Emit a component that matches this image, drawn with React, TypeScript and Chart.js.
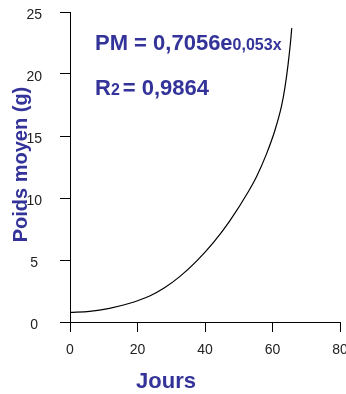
import React, { useEffect, useRef } from 'react';
import { Chart, registerables } from 'chart.js';

Chart.register(...registerables);

// Data (days, mean weight in g)
const days = [0, 5.8, 11.7, 17.7, 23.6, 28.0, 32.5, 37.5, 42.4, 47.3, 53.0, 55.3, 58.2, 60.7, 62.7, 63.7, 64.6, 65.4, 65.7];
const weights = [0.78, 0.86, 1.1, 1.51, 2.1, 2.76, 3.66, 4.91, 6.38, 8.14, 10.59, 11.74, 13.54, 15.44, 17.44, 18.94, 20.74, 22.74, 23.7];

const xTicks = [0, 20, 40, 60, 80];
const yTicks = [0, 5, 10, 15, 20, 25];

const xTitle = 'Jours';
const yTitle = 'Poids moyen (g)';
const eqMain = 'PM = 0,7056e';
const eqExp = '0,053x';
const r2Main = 'R';
const r2Sub = '2';
const r2Value = '= 0,9864';

const FONT = '"Liberation Sans", Arial, sans-serif';
const BLUE = '#333399';
const TICK_COLOR = '#222222';

const textPlugin = {
  id: 'texts',
  afterDraw(chart: any) {
    const ctx = chart.ctx;
    ctx.save();
    ctx.fillStyle = BLUE;
    ctx.textAlign = 'left';
    ctx.textBaseline = 'alphabetic';

    // Equation
    ctx.font = `bold 22px ${FONT}`;
    ctx.fillText(eqMain, 95, 50);
    let w = ctx.measureText(eqMain).width;
    ctx.font = `bold 16px ${FONT}`;
    ctx.fillText(eqExp, 95 + w, 50);

    // R2
    ctx.font = `bold 22px ${FONT}`;
    ctx.fillText(r2Main, 95, 95);
    w = ctx.measureText(r2Main).width;
    ctx.font = `bold 16px ${FONT}`;
    ctx.fillText(r2Sub, 95 + w, 95);
    const w2 = ctx.measureText(r2Sub).width;
    ctx.font = `bold 22px ${FONT}`;
    ctx.fillText(r2Value, 95 + w + w2 + 3, 95);

    // X title
    ctx.textAlign = 'center';
    ctx.fillText(xTitle, 166, 388);

    // Y title
    ctx.font = `bold 20px ${FONT}`;
    ctx.translate(27, 164.5);
    ctx.rotate(-Math.PI / 2);
    ctx.fillText(yTitle, 0, 0);
    ctx.restore();
  },
};

export default function App() {
  const ref = useRef<HTMLCanvasElement | null>(null);

  useEffect(() => {
    document.body.style.margin = '0';
    const canvas = ref.current;
    if (!canvas) return;
    const chart = new Chart(canvas, {
      type: 'line',
      data: {
        datasets: [
          {
            data: days.map((d, i) => ({ x: d, y: weights[i] })),
            borderColor: '#000000',
            borderWidth: 1.2,
            pointRadius: 0,
            fill: false,
            cubicInterpolationMode: 'monotone',
          },
        ],
      },
      options: {
        responsive: false,
        animation: false,
        layout: { padding: { top: 12, left: 0, right: 6, bottom: 0 } },
        plugins: {
          legend: { display: false },
          tooltip: { enabled: false },
          title: { display: false },
        },
        scales: {
          x: {
            type: 'linear',
            min: 0,
            max: 80,
            afterBuildTicks: (s: any) => {
              s.ticks = xTicks.map((v) => ({ value: v }));
            },
            afterFit: (s: any) => {
              s.height = 72;
              s.paddingLeft = 0;
              s.paddingRight = 0;
            },
            grid: { drawOnChartArea: false, drawTicks: true, tickLength: 10, color: '#000000', lineWidth: 1 },
            border: { display: true, color: '#000000', width: 1 },
            ticks: {
              font: { size: 14, family: FONT },
              color: TICK_COLOR,
              padding: 10,
              maxRotation: 0,
              autoSkip: false,
            },
          },
          y: {
            type: 'linear',
            min: 0,
            max: 25,
            afterBuildTicks: (s: any) => {
              s.ticks = yTicks.map((v) => ({ value: v }));
            },
            afterFit: (s: any) => {
              s.width = 70;
              s.paddingTop = 0;
              s.paddingBottom = 0;
            },
            grid: { drawOnChartArea: false, drawTicks: true, tickLength: 10, color: '#000000', lineWidth: 1 },
            border: { display: true, color: '#000000', width: 1 },
            ticks: {
              font: { size: 14, family: FONT },
              color: TICK_COLOR,
              padding: 18,
              crossAlign: 'center',
              labelOffset: 3,
              autoSkip: false,
            },
          },
        },
      },
      plugins: [textPlugin],
    } as any);
    return () => chart.destroy();
  }, []);

  return (
    <div style={{ width: 346, height: 394 }}>
      <canvas ref={ref} width={346} height={394} />
    </div>
  );
}
